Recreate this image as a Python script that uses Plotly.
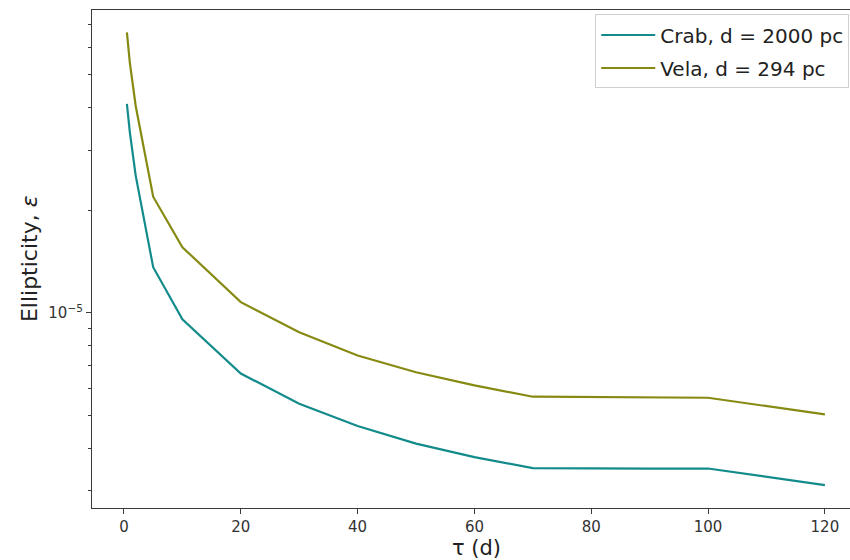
import plotly.graph_objects as go

# Spin-down timescale tau (days)
tau_days = [0.5, 1, 2, 5, 10, 20, 30, 40, 50, 60, 70, 80, 90, 100, 120]

# Ellipticity upper limits for each pulsar
crab_eps = [4.10e-5, 3.39e-5, 2.53e-5, 1.36e-5, 9.56e-6, 6.63e-6, 5.41e-6,
            4.65e-6, 4.13e-6, 3.77e-6, 3.50e-6, 3.49e-6, 3.49e-6, 3.49e-6, 3.12e-6]
vela_eps = [6.65e-5, 5.42e-5, 4.05e-5, 2.19e-5, 1.557e-5, 1.074e-5, 8.77e-6,
            7.49e-6, 6.69e-6, 6.12e-6, 5.67e-6, 5.66e-6, 5.65e-6, 5.63e-6, 5.03e-6]

series_names = ["Crab, d = 2000 pc", "Vela, d = 294 pc"]
series_colors = ["#138b8b", "#878a12"]

x_ticks = [0, 20, 40, 60, 80, 100, 120]
y_major = [1e-5]
y_minor = [3e-6, 4e-6, 5e-6, 6e-6, 7e-6, 8e-6, 9e-6,
           2e-5, 3e-5, 4e-5, 5e-5, 6e-5, 7e-5]

FONT = "DejaVu Sans"
AXIS = "#3a3a3a"

fig = go.Figure()
for i, (name, ys) in enumerate(zip(series_names, [crab_eps, vela_eps])):
    fig.add_trace(go.Scatter(
        x=tau_days, y=ys, mode="lines", name=name,
        legendgroup=name,
        line=dict(color=series_colors[i], width=2.2),
    ))

fig.update_layout(
    width=850, height=560,
    margin=dict(l=92, r=0, t=10, b=52),
    paper_bgcolor="white", plot_bgcolor="white",
    font=dict(family=FONT, color="#333333"),
    showlegend=True,
    legend=dict(
        x=0.999, y=0.991, xanchor="right", yanchor="top",
        bgcolor="rgba(255,255,255,0.85)", bordercolor="#d0d0d0", borderwidth=1,
        font=dict(family=FONT, size=20, color="#222222"),
        tracegroupgap=4, itemwidth=54,
    ),
)

fig.update_xaxes(
    range=[-5.475, 124.3],
    tickvals=x_ticks, ticktext=[str(v) for v in x_ticks],
    ticks="outside", ticklen=5, tickwidth=1, tickcolor=AXIS,
    tickfont=dict(family=FONT, size=15, color="#333333"),
    showline=True, linecolor=AXIS, linewidth=1.2, mirror=True,
    showgrid=False, zeroline=False,
)

fig.update_yaxes(
    type="log",
    range=[-5.573, -4.1116],
    tickvals=y_major, ticktext=["10<sup>−5</sup>"],
    ticks="outside", ticklen=5, tickwidth=1, tickcolor=AXIS,
    tickfont=dict(family=FONT, size=15, color="#333333"),
    minor=dict(tickvals=y_minor, ticks="outside", ticklen=3, tickwidth=1,
               tickcolor=AXIS, showgrid=False),
    showline=True, linecolor=AXIS, linewidth=1.2,
    showgrid=False, zeroline=False,
)

# Axis titles
fig.add_annotation(
    text="τ (d)", xref="paper", yref="paper",
    x=(476 - 92) / 758, y=-0.052, xanchor="center", yanchor="top",
    showarrow=False, font=dict(family=FONT, size=21, color="#222222"),
)
fig.add_annotation(
    text="Ellipticity, <i>ε</i>", xref="paper", yref="paper",
    x=-0.083, y=0.5, xanchor="center", yanchor="middle", textangle=-90,
    showarrow=False, font=dict(family=FONT, size=22, color="#222222"),
)

fig.write_html("out.html")
